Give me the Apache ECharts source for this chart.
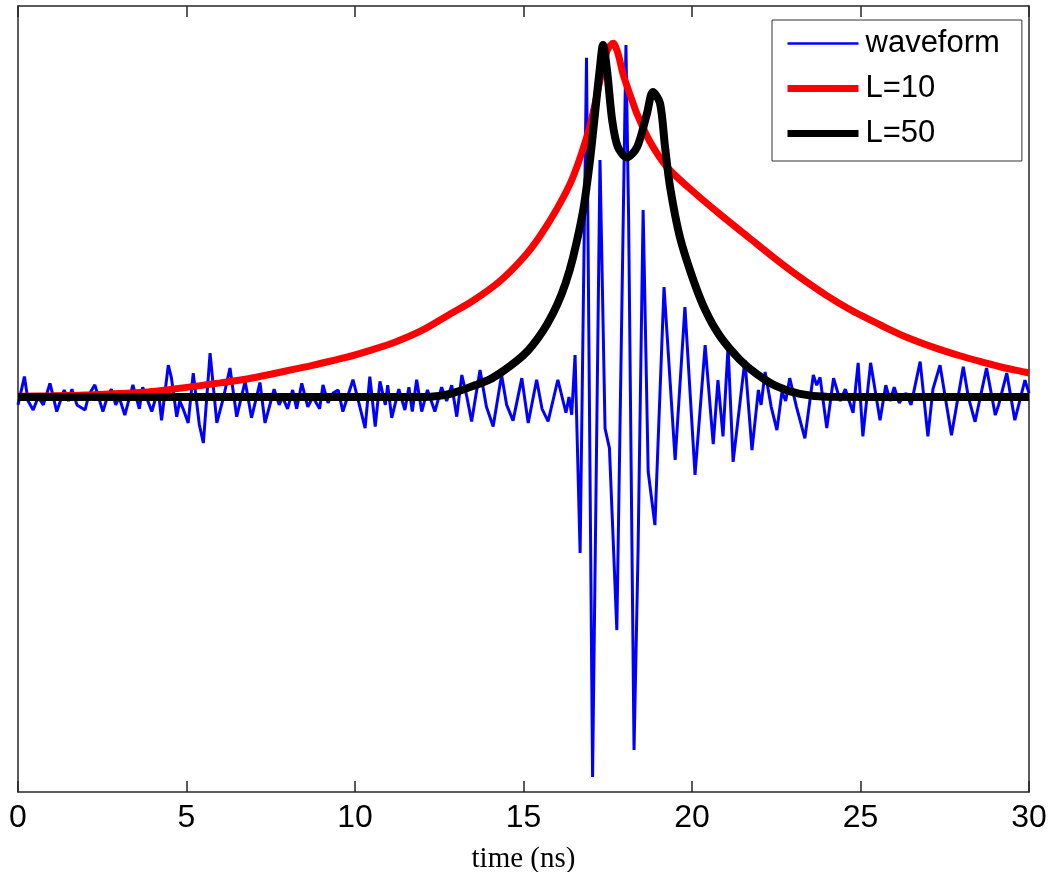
<!DOCTYPE html>
<html>
<head>
<meta charset="utf-8">
<script src="https://cdn.jsdelivr.net/npm/echarts@6/dist/echarts.min.js"></script>
<style>
html,body{margin:0;padding:0;background:#fff;}
#chart{width:1054px;height:872px;}
</style>
</head>
<body>
<div id="chart"></div>
<script>
// ---- data (time in ns, normalized amplitude) ----
const xTicks = [0, 5, 10, 15, 20, 25, 30];
const seriesNames = ['waveform', 'L=10', 'L=50'];

const waveformT = [0.00,0.08,0.19,0.3,0.45,0.6,0.75,0.95,1.15,1.37,1.5,1.6,1.75,1.99,2.1,2.28,2.52,2.65,2.77,2.9,3.0,3.17,3.41,3.6,3.7,3.97,4.16,4.26,4.46,4.55,4.71,4.8,4.9,5.05,5.2,5.38,5.5,5.7,5.9,6.1,6.29,6.49,6.74,6.93,7.18,7.33,7.6,7.75,7.85,8.0,8.15,8.27,8.42,8.6,8.75,8.95,9.05,9.2,9.35,9.5,9.64,9.94,10.1,10.3,10.44,10.6,10.74,10.9,10.97,11.09,11.3,11.48,11.6,11.7,11.83,11.98,12.15,12.37,12.57,12.72,12.87,13.02,13.17,13.32,13.46,13.71,13.9,14.1,14.35,14.5,14.69,14.95,15.14,15.39,15.55,15.73,16.02,16.26,16.35,16.43,16.53,16.68,16.87,17.05,17.27,17.42,17.55,17.77,18.04,18.12,18.28,18.4,18.55,18.7,18.9,19.17,19.5,19.79,20.09,20.39,20.63,20.77,20.92,21.07,21.22,21.57,21.78,21.97,22.05,22.17,22.35,22.52,22.67,22.78,22.9,23.1,23.35,23.6,23.7,23.8,24.0,24.2,24.4,24.55,24.78,24.93,25.07,25.3,25.58,25.75,25.88,26.0,26.15,26.35,26.5,26.77,27.0,27.15,27.36,27.7,28.05,28.2,28.4,28.74,29.0,29.1,29.34,29.58,29.88,30.0];
const waveformV = [-0.02,0.01,0.052,-0.01,-0.033,0.0,-0.02,0.035,-0.037,0.018,-0.01,0.02,-0.02,-0.033,0.005,0.031,-0.037,0.0,0.02,-0.02,0.0,-0.046,0.031,-0.03,0.025,-0.037,0.02,-0.059,0.081,0.05,-0.05,-0.01,-0.03,-0.066,0.061,-0.07,-0.117,0.112,-0.066,0.0,0.074,-0.05,0.04,-0.053,0.037,-0.066,0.02,-0.02,0.0,-0.03,0.018,-0.03,0.035,-0.025,0.0,-0.03,0.031,-0.015,0.01,0.018,-0.037,0.044,-0.01,-0.079,0.052,-0.075,0.04,-0.02,0.03,-0.053,0.02,-0.033,0.025,-0.037,0.044,-0.037,0.018,-0.037,0.025,-0.01,0.03,-0.05,0.056,0.0,-0.062,0.069,-0.025,-0.075,0.056,-0.02,-0.06,0.048,-0.066,0.044,-0.03,-0.062,0.044,-0.04,0.0,-0.045,0.107,-0.397,0.863,-0.967,0.603,-0.08,-0.13,-0.593,0.896,0.45,-0.898,-0.39,0.476,-0.19,-0.326,0.28,-0.16,0.229,-0.198,0.132,-0.12,0.043,-0.10,0.127,-0.165,0.094,-0.135,0.018,-0.02,0.064,-0.025,-0.084,0.013,-0.01,0.048,-0.025,-0.105,0.056,0.03,0.05,-0.079,0.048,-0.01,0.02,-0.04,0.087,-0.1,0.087,-0.059,0.03,-0.01,0.025,-0.015,0.01,-0.02,0.09,-0.10,0.02,0.081,-0.097,0.077,0.0,-0.063,0.074,-0.046,-0.02,0.061,-0.059,0.043,0.01];

const l10T = [0,1,2,3,3.86,4.5,5.4,6.0,6.8,7.5,8.2,8.8,9.7,10.5,11.2,12.0,12.8,13.5,14.3,15.0,15.49,16.0,16.47,16.97,17.33,17.5,17.66,17.8,17.96,18.2,18.37,18.75,19.26,19.94,20.83,21.7,22.5,23.2,24.0,24.7,25.67,26.37,27.15,27.95,28.7,29.14,29.9,30.0];
const l10V = [0.002,0.003,0.005,0.009,0.013,0.019,0.029,0.036,0.046,0.058,0.071,0.082,0.10,0.12,0.14,0.17,0.21,0.245,0.295,0.355,0.41,0.48,0.56,0.69,0.83,0.885,0.90,0.875,0.82,0.76,0.72,0.65,0.585,0.53,0.465,0.405,0.35,0.305,0.258,0.222,0.18,0.152,0.127,0.105,0.087,0.077,0.063,0.061];

const l50T = [0,6,12.0,12.5,12.9,13.56,14.0,14.36,14.8,15.13,15.43,15.7,16.0,16.25,16.47,16.77,16.97,17.12,17.27,17.36,17.48,17.63,17.8,18.07,18.37,18.66,18.84,19.05,19.2,19.35,19.64,20.03,20.4,20.83,21.42,21.93,22.52,23.2,24.0,27,30];
const l50V = [0,0,0,0.003,0.01,0.03,0.045,0.064,0.092,0.118,0.15,0.185,0.235,0.29,0.355,0.475,0.60,0.72,0.84,0.896,0.83,0.705,0.636,0.61,0.636,0.72,0.776,0.748,0.636,0.534,0.407,0.30,0.22,0.155,0.095,0.058,0.027,0.008,0.001,0,0];

const zip = (t, v) => t.map((x, i) => [x, v[i]]);

const chart = echarts.init(document.getElementById('chart'), null, {renderer: 'canvas'});
const axisColor = '#262626';
const option = {
  animation: false,
  backgroundColor: '#ffffff',
  grid: {left: 18, right: 25, top: 6, bottom: 80, containLabel: false, outerBoundsMode: 'none'},
  legend: {
    orient: 'vertical', left: 772, top: 20,
    padding: [8, 22, 12, 12], itemGap: 14, itemWidth: 71, itemHeight: 14,
    borderColor: '#333', borderWidth: 1, backgroundColor: '#ffffff',
    textStyle: {fontSize: 31, fontFamily: '"Liberation Sans", Arial, sans-serif', color: '#000', padding: [0, 0, 0, 2]},
    itemStyle: {opacity: 0},
    data: [
      {name: seriesNames[0], lineStyle: {width: 2.5, color: '#0000ff'}},
      {name: seriesNames[1], lineStyle: {width: 7, color: '#ff0000'}},
      {name: seriesNames[2], lineStyle: {width: 7, color: '#000000'}}
    ]
  },
  xAxis: [{
    type: 'value', min: 0, max: 30, interval: 5, position: 'bottom',
    name: 'time (ns)', nameLocation: 'middle', nameGap: 53,
    nameTextStyle: {fontFamily: '"Liberation Serif", "Times New Roman", serif', fontSize: 29, color: '#000'},
    axisLine: {show: true, onZero: false, lineStyle: {color: axisColor, width: 1.5}},
    axisTick: {show: true, inside: true, length: 11, lineStyle: {color: axisColor, width: 1.5}},
    axisLabel: {show: true, fontSize: 32, fontFamily: '"Liberation Sans", Arial, sans-serif', color: '#000', margin: 10,
      formatter: v => xTicks.includes(v) ? String(v) : ''},
    splitLine: {show: false}
  }, {
    type: 'value', min: 0, max: 30, interval: 5, position: 'top',
    axisLine: {show: true, onZero: false, lineStyle: {color: axisColor, width: 1.5}},
    axisTick: {show: true, inside: true, length: 11, lineStyle: {color: axisColor, width: 1.5}},
    axisLabel: {show: false},
    splitLine: {show: false}
  }],
  yAxis: [{
    type: 'value', min: -1.005, max: 0.995, position: 'left',
    axisLine: {show: true, onZero: false, lineStyle: {color: axisColor, width: 1.5}},
    axisTick: {show: false}, axisLabel: {show: false}, splitLine: {show: false}
  }, {
    type: 'value', min: -1.005, max: 0.995, position: 'right',
    axisLine: {show: true, onZero: false, lineStyle: {color: axisColor, width: 1.5}},
    axisTick: {show: false}, axisLabel: {show: false}, splitLine: {show: false}
  }],
  series: [{
    name: seriesNames[0], type: 'line', xAxisIndex: 0, yAxisIndex: 0,
    data: zip(waveformT, waveformV), showSymbol: false,
    lineStyle: {color: '#0000ff', width: 3}, itemStyle: {color: '#0000ff'}
  }, {
    name: seriesNames[1], type: 'line', xAxisIndex: 0, yAxisIndex: 0,
    data: zip(l10T, l10V), showSymbol: false, smooth: 0.3,
    lineStyle: {color: '#ff0000', width: 7}, itemStyle: {color: '#ff0000'}
  }, {
    name: seriesNames[2], type: 'line', xAxisIndex: 0, yAxisIndex: 0,
    data: zip(l50T, l50V), showSymbol: false, smooth: 0.3,
    lineStyle: {color: '#000000', width: 8}, itemStyle: {color: '#000000'}
  }]
};
chart.setOption(option);
</script>
</body>
</html>
